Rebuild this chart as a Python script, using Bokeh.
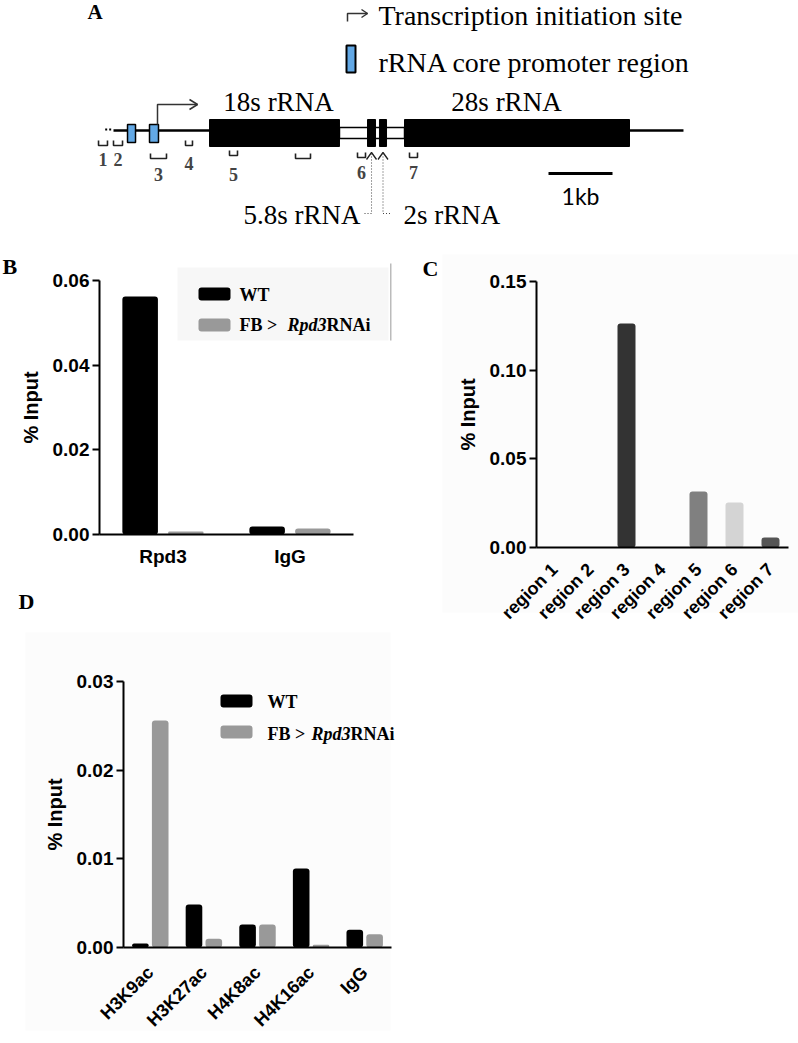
import math
from bokeh.plotting import figure
from bokeh.models import (Range1d, ColumnDataSource, FixedTicker,
                          PrintfTickFormatter, Label, BoxAnnotation)
from bokeh.layouts import column, row
from bokeh.embed import file_html
from bokeh.resources import INLINE
from bokeh.core.properties import value

# ---------------- data ----------------
b_categories = ["Rpd3", "IgG"]
b_wt = [0.0562, 0.0019]
b_rnai = [0.0007, 0.0014]
b_ticks = [0.0, 0.02, 0.04, 0.06]

c_categories = ["region 1", "region 2", "region 3", "region 4",
                "region 5", "region 6", "region 7"]
c_values = [0.0, 0.0, 0.1263, 0.0, 0.0316, 0.0254, 0.0056]
c_colors = ["#333333", "#333333", "#333333", "#333333",
            "#808080", "#d4d4d4", "#555555"]
c_ticks = [0.0, 0.05, 0.10, 0.15]

d_categories = ["H3K9ac", "H3K27ac", "H4K8ac", "H4K16ac", "IgG"]
d_wt = [0.00045, 0.00485, 0.0026, 0.0089, 0.0020]
d_rnai = [0.0256, 0.0010, 0.0026, 0.0003, 0.0015]
d_ticks = [0.0, 0.01, 0.02, 0.03]

series_names = ["WT", "FB > ", "Rpd3", "RNAi"]
WT_COLOR = "#000000"
RNAI_COLOR = "#999999"
PANEL_BG = "#fcfcfc"

# rDNA schematic (positions in kb from the left end of the line)
line_kb = [0.0, 8.906]
rrna_names = ["18s rRNA", "5.8s rRNA", "2s rRNA", "28s rRNA"]
rrna_start = [1.5, 3.969, 4.156, 4.547]
rrna_end = [3.531, 4.094, 4.266, 8.0625]
promoter_start = [0.219, 0.5625]
promoter_end = [0.344, 0.703]
tss_kb = 0.6875
primer_names = ["1", "2", "3", "4", "5", "", "6", "7"]
primer_left = [-0.234, 0.0, 0.578, 1.125, 1.8125, 2.844, 3.8125, 4.625]
primer_right = [-0.094, 0.141, 0.828, 1.234, 1.9375, 3.078, 3.9375, 4.75]
scalebar_kb = [6.797, 7.797]

SERIF = "Liberation Serif"
SANS = "Liberation Sans"


def bl(y, fs):
    """baseline correction for the text renderer"""
    return y - 0.3 * fs


# ---------------- panel A ----------------
KB0, PXKB = 113, 64.0
def K(kb):
    return KB0 + PXKB * kb

pA = figure(width=798, height=248, x_range=Range1d(0, 798), y_range=Range1d(248, 0),
            x_axis_location=None, y_axis_location=None, output_backend="svg",
            toolbar_location=None, min_border=0, outline_line_color=None)
pA.xgrid.visible = False
pA.ygrid.visible = False

pA.segment(x0=[K(line_kb[0])], y0=[130], x1=[K(line_kb[1])], y1=[130],
           line_width=2.5, line_color="black")
pA.segment(x0=[K(-0.13)], y0=[129], x1=[K(-0.02)], y1=[129],
           line_width=2, line_color="black", line_dash="2 2")
pA.quad(left=[K(rrna_end[0])], right=[K(rrna_start[3])], top=[127], bottom=[138],
        fill_color="white", line_color="black", line_width=1.5)
pA.quad(left=[K(s) for s in rrna_start], right=[K(e) for e in rrna_end],
        top=[119] * 4, bottom=[146] * 4, fill_color="black", line_color="black")
pA.quad(left=[K(s) for s in promoter_start], right=[K(e) for e in promoter_end],
        top=[124] * 2, bottom=[142] * 2, fill_color="#62a8e5", line_color="black",
        line_width=1.5)
br_top = [140, 140, 153, 140, 150, 153, 152, 152]
pA.multi_line(xs=[[K(l), K(l), K(r), K(r)] for l, r in zip(primer_left, primer_right)],
              ys=[[t, t + 5, t + 5, t] for t in br_top], line_color="#222222", line_width=1.6)
num_y = [164, 164, 179, 168, 179, 0, 177, 177]
nums = [(n, (K(l) + K(r)) / 2, y) for n, l, r, y in zip(primer_names, primer_left, primer_right, num_y) if n]
pA.text(x=[n[1] for n in nums], y=[bl(n[2], 18) for n in nums], text=[n[0] for n in nums],
        text_font=value(SERIF), text_font_size="18px", text_font_style="bold",
        text_color="#444444", text_align="center", text_baseline="alphabetic")
tx = K(tss_kb)
pA.multi_line(xs=[[tx, tx, tx + 40], [tx + 32, tx + 40, tx + 32]],
              ys=[[124, 104, 104], [99, 104, 109]], line_color="#333333", line_width=1.5)
c58 = K((rrna_start[1] + rrna_end[1]) / 2)
c2 = K((rrna_start[2] + rrna_end[2]) / 2)
pA.multi_line(xs=[[c58 - 5, c58, c58 + 5], [c2 - 5, c2, c2 + 5]],
              ys=[[159, 152, 159], [159, 152, 159]], line_color="#222222", line_width=1.3)
pA.multi_line(xs=[[c58, c58, 363], [c2, c2, 391]], ys=[[153, 213, 213], [153, 213, 213]],
              line_color="#444444", line_width=1, line_dash="1 2")
pA.text(x=[278, 506], y=[bl(110, 27)] * 2, text=[rrna_names[0], rrna_names[3]],
        text_font=value(SERIF), text_font_size="27px", text_align="center",
        text_baseline="alphabetic", text_color="black")
pA.text(x=[360], y=[bl(223, 27)], text=[rrna_names[1]], text_font=value(SERIF),
        text_font_size="27px", text_align="right", text_baseline="alphabetic")
pA.text(x=[403], y=[bl(223, 27)], text=[rrna_names[2]], text_font=value(SERIF),
        text_font_size="27px", text_align="left", text_baseline="alphabetic")
pA.segment(x0=[K(scalebar_kb[0])], y0=[173], x1=[K(scalebar_kb[1])], y1=[173],
           line_width=3, line_color="black")
pA.text(x=[(K(scalebar_kb[0]) + K(scalebar_kb[1])) / 2], y=[bl(202, 23)], text=["1kb"],
        text_font=value("Lato"), text_font_size="23px", text_align="center",
        text_baseline="alphabetic")
pA.multi_line(xs=[[347, 347, 367], [361, 367, 361]], ys=[[21, 13, 13], [9, 13, 17]],
              line_color="#333333", line_width=1.5)
pA.quad(left=[346], right=[355], top=[45], bottom=[72], fill_color="#62a8e5",
        line_color="black", line_width=2)
pA.text(x=[378, 378], y=[bl(23, 28), bl(70, 28)],
        text=["Transcription initiation site", "rRNA core promoter region"],
        text_font=value(SERIF), text_font_size="28px", text_align="left",
        text_baseline="alphabetic")
pA.text(x=[87], y=[bl(18, 21)], text=["A"], text_font=value(SERIF), text_font_size="21px",
        text_font_style="bold", text_baseline="alphabetic")


def make_panel(width, height, page_x, page_y, axis_px, unit_px, zero_px, top_px, ymax):
    """Figure whose frame fills the whole canvas; axes pinned at data 0."""
    x0 = (page_x - axis_px) / unit_px
    x1 = (page_x + width - axis_px) / unit_px
    s = ymax / (zero_px - top_px)
    y0 = -(page_y + height - zero_px) * s
    y1 = ymax + (top_px - page_y) * s
    p = figure(width=width, height=height, x_range=Range1d(x0, x1), y_range=Range1d(y0, y1),
               output_backend="svg", toolbar_location=None, min_border=0,
               outline_line_color=None)
    p.xgrid.visible = False
    p.ygrid.visible = False
    return p


def style_axes(p, ticks, cats, ymax, xsize="19px", orient=None, standoff=11):
    yax = p.yaxis[0]
    yax.fixed_location = 0
    yax.bounds = (0, ymax)
    yax.ticker = FixedTicker(ticks=ticks)
    yax.formatter = PrintfTickFormatter(format="%.2f")
    yax.axis_label = "% Input"
    yax.axis_label_text_font = SANS
    yax.axis_label_text_font_style = "bold"
    yax.axis_label_text_font_size = "20px"
    yax.axis_label_text_color = "black"
    yax.axis_label_standoff = 8
    yax.major_label_text_font = SANS
    yax.major_label_text_font_style = "bold"
    yax.major_label_text_font_size = "19px"
    yax.major_label_text_color = "black"
    yax.major_label_standoff = 3
    yax.major_tick_out = 7
    yax.major_tick_in = 0
    yax.minor_tick_line_color = None
    yax.axis_line_width = 2
    yax.major_tick_line_width = 2
    yax.axis_line_color = "black"
    yax.major_tick_line_color = "black"
    xax = p.xaxis[0]
    xax.fixed_location = 0
    xax.bounds = (0, len(cats))
    xax.ticker = FixedTicker(ticks=[i + 0.5 for i in range(len(cats))])
    xax.major_label_overrides = {i + 0.5: c for i, c in enumerate(cats)}
    xax.major_tick_line_color = None
    xax.major_tick_out = 0
    xax.major_tick_in = 0
    xax.minor_tick_line_color = None
    xax.axis_line_width = 2
    xax.axis_line_color = "black"
    xax.major_label_text_font = SANS
    xax.major_label_text_font_style = "bold"
    xax.major_label_text_font_size = xsize
    xax.major_label_text_color = "black"
    xax.major_label_standoff = standoff
    if orient is not None:
        xax.major_label_orientation = orient


def clabel(p, ox, oy, x, y, text, fs, font=SERIF, style="bold", color="black",
           align="left"):
    p.add_layout(Label(x=x - ox, y=bl(y, fs) - oy, x_units="canvas", y_units="canvas",
                       text=text, text_font=font, text_font_size=f"{fs}px",
                       text_font_style=style, text_color=color, text_align=align,
                       text_baseline="alphabetic"))


def cbox(p, ox, oy, l, r, t, b, color, radius=0):
    p.add_layout(BoxAnnotation(left=l - ox, right=r - ox, top=t - oy, bottom=b - oy,
                               left_units="canvas", right_units="canvas",
                               top_units="canvas", bottom_units="canvas",
                               fill_color=color, fill_alpha=1.0, line_color=None,
                               border_radius=radius, level="underlay"))


def legend(p, ox, oy, lx, tx, ys, sw_tops, xs3, fs):
    cbox(p, ox, oy, lx, lx + 32, sw_tops[0], sw_tops[0] + 13, WT_COLOR, 3)
    cbox(p, ox, oy, lx, lx + 32, sw_tops[1], sw_tops[1] + 13, RNAI_COLOR, 3)
    clabel(p, ox, oy, tx, ys[0], series_names[0], fs)
    clabel(p, ox, oy, xs3[0], ys[1], series_names[1], fs)
    clabel(p, ox, oy, xs3[1], ys[1], series_names[2], fs, style="bold italic")
    clabel(p, ox, oy, xs3[2], ys[1], series_names[3], fs)


ROW_H = 380

# ---------------- panel B ----------------
BX, BY = 0, 248
pB = make_panel(400, ROW_H, BX, BY, axis_px=99, unit_px=127, zero_px=534, top_px=280, ymax=0.06)
style_axes(pB, b_ticks, b_categories, 0.06, xsize="19px", standoff=11)
cbox(pB, BX, BY, 177, 388, 267, 340, "#f7f7f7")
cbox(pB, BX, BY, 389.5, 391, 263, 340, "#bbbbbb")
srcB = ColumnDataSource(dict(xw=[i + 0.5 - 0.18 for i in range(len(b_categories))],
                             xr=[i + 0.5 + 0.18 for i in range(len(b_categories))],
                             wt=b_wt, rnai=b_rnai))
pB.vbar(x="xw", top="wt", width=0.28, source=srcB, fill_color=WT_COLOR,
        line_color=None, border_radius=3)
pB.vbar(x="xr", top="rnai", width=0.28, source=srcB, fill_color=RNAI_COLOR,
        line_color=None, border_radius=3)
legend(pB, BX, BY, 198, 239, [300, 330], [287, 318], [239, 287, 326], 18)
clabel(pB, BX, BY, 2, 273, "B", 22)
clabel(pB, BX, BY, 18, 608, "D", 22)

# ---------------- panel C ----------------
CX, CY = 400, 248
pC = make_panel(398, ROW_H, CX, CY, axis_px=536, unit_px=36, zero_px=547, top_px=281, ymax=0.15)
cbox(pC, CX, CY, 442, 798, 254, 612, PANEL_BG)
style_axes(pC, c_ticks, c_categories, 0.15, xsize="18px", orient=math.pi / 4, standoff=19)
srcC = ColumnDataSource(dict(x=[i + 0.5 for i in range(len(c_categories))],
                             val=c_values, color=c_colors))
pC.vbar(x="x", top="val", width=0.5, source=srcC, fill_color="color", line_color=None,
        border_radius=3)
clabel(pC, CX, CY, 422, 275, "C", 22)

# ---------------- panel D ----------------
DX, DY = 0, 248 + ROW_H
pD = make_panel(400, 1040 - DY, DX, DY, axis_px=123, unit_px=53.6, zero_px=947, top_px=681, ymax=0.03)
cbox(pD, DX, DY, 25, 390, 632, 1030, PANEL_BG)
style_axes(pD, d_ticks, d_categories, 0.03, xsize="18px", orient=math.pi / 4, standoff=22)
srcD = ColumnDataSource(dict(xw=[i + 0.5 - 0.185 for i in range(len(d_categories))],
                             xr=[i + 0.5 + 0.185 for i in range(len(d_categories))],
                             wt=d_wt, rnai=d_rnai))
pD.vbar(x="xw", top="wt", width=0.31, source=srcD, fill_color=WT_COLOR,
        line_color=None, border_radius=3)
pD.vbar(x="xr", top="rnai", width=0.31, source=srcD, fill_color=RNAI_COLOR,
        line_color=None, border_radius=3)
legend(pD, DX, DY, 220, 267, [707, 739], [694, 725], [267, 311, 350], 18)

layout = column(pA, row(pB, pC), pD)
open("out.html", "w").write(file_html(layout, INLINE))
